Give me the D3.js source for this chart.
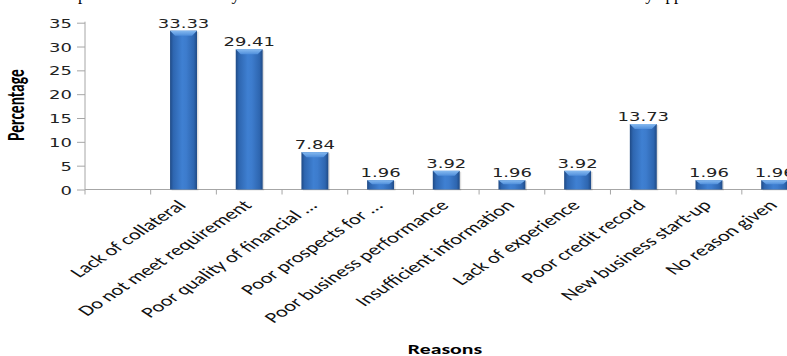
<!DOCTYPE html>
<html><head><meta charset="utf-8">
<script src="https://cdn.jsdelivr.net/npm/d3@7"></script>
<style>html,body{margin:0;padding:0;background:#fff;overflow:hidden}</style>
</head><body>
<script>
const categories = ["", "Lack of collateral", "Do not meet requirement", "Poor quality of financial ...", "Poor prospects for ...", "Poor business performance", "Insufficient information", "Lack of experience", "Poor credit record", "New business start-up", "No reason given"];
const values = [null, 33.33, 29.41, 7.84, 1.96, 3.92, 1.96, 3.92, 13.73, 1.96, 1.96];
const valueLabels = ["", "33.33", "29.41", "7.84", "1.96", "3.92", "1.96", "3.92", "13.73", "1.96", "1.96"];
const yTicks = [0, 5, 10, 15, 20, 25, 30, 35];
const yTitle = "Percentage";
const xTitle = "Reasons";

const W = 787, H = 356, SX = 1.5;
const svg = d3.select("body").append("svg").attr("width", W).attr("height", H);
const defs = svg.append("defs");
const g1 = defs.append("linearGradient").attr("id","barg").attr("x1","0").attr("x2","1").attr("y1","0").attr("y2","0");
[["0%","#1f4a85"],["12%","#2e66b0"],["45%","#3f80d2"],["60%","#3d7ccd"],["88%","#2e66b0"],["100%","#1f4a85"]]
  .forEach(([o,c])=>g1.append("stop").attr("offset",o).attr("stop-color",c));
const g2 = defs.append("linearGradient").attr("id","capg").attr("x1","0").attr("x2","0").attr("y1","0").attr("y2","1");
[["0%","#86baf0"],["100%","#4f8edb"]].forEach(([o,c])=>g2.append("stop").attr("offset",o).attr("stop-color",c));

const x = d3.scaleBand().domain(categories).range([85, 807.5]).paddingInner(0.59).paddingOuter(0.295);
const y = d3.scaleLinear().domain([0, 35]).range([189.5, 22.7]);
const step = x.step();

// caption fragment at top (cut off by the crop, only descenders show)
svg.append("text").attr("y", -0.5).attr("font-family","Liberation Serif, serif").attr("font-size",17).attr("fill","#000")
  .call(t=>{
    t.append("tspan").attr("x",78).text("provided the reasons by the");
    t.append("tspan").attr("x",455).text("was not obtained as stated by applicants");
  });

// y axis
const axisCol = "#a6a6a6";
const gy = svg.append("g").attr("transform","translate(85,0)")
  .call(d3.axisLeft(y).tickValues(yTicks).tickSize(8).tickPadding(5).tickFormat(d3.format("d")));
gy.select(".domain").attr("stroke",axisCol).attr("d",`M0,${y(35)-1}V${y(0)}`);
gy.selectAll(".tick line").attr("stroke",axisCol);
gy.selectAll(".tick text").attr("fill","#222").attr("font-family","DejaVu Sans, sans-serif").attr("font-size",12)
  .attr("x",null).attr("dy",null)
  .attr("transform",`translate(-13,4.5) scale(${SX},1)`).attr("text-anchor","end");

// x axis
const bounds = d3.range(categories.length+1).map(i=>85 + i*step);
const gx = svg.append("g");
gx.append("line").attr("x1",85).attr("x2",W+30).attr("y1",y(0)).attr("y2",y(0)).attr("stroke",axisCol);
gx.selectAll("line.tk").data(bounds).join("line").attr("class","tk")
  .attr("x1",d=>d).attr("x2",d=>d).attr("y1",y(0)).attr("y2",y(0)+5).attr("stroke",axisCol);

gx.selectAll("text.cat").data(categories).join("text").attr("class","cat")
  .attr("transform",d=>`translate(${x(d)+x.bandwidth()/2-2},${y(0)+13}) scale(${SX},1) rotate(-45)`)
  .attr("text-anchor","end").attr("dy","0.35em")
  .attr("font-family","Carlito, Lato, sans-serif").attr("font-size",15).attr("fill","#111")
  .text(d=>d);

// bars
const data = categories.map((c,i)=>({c, v: values[i], lab: valueLabels[i]})).filter(d=>d.v!=null);
const bars = svg.append("g");
bars.selectAll("rect.sh").data(data).join("rect").attr("class","sh")
  .attr("x",d=>x(d.c)+1.5).attr("y",d=>y(d.v)+1).attr("width",x.bandwidth()).attr("height",d=>y(0)-y(d.v))
  .attr("fill","#000").attr("opacity",0.12);
bars.selectAll("rect.b").data(data).join("rect").attr("class","b")
  .attr("x",d=>x(d.c)).attr("y",d=>y(d.v)).attr("width",x.bandwidth()).attr("height",d=>y(0)-y(d.v))
  .attr("fill","url(#barg)");
bars.selectAll("path.cap").data(data).join("path").attr("class","cap")
  .attr("d",d=>{const x0=x(d.c), w=x.bandwidth(), t=y(d.v), h=Math.min(5,(y(0)-t)*0.45);
    return `M${x0},${t}H${x0+w}L${x0+w-5},${t+h}H${x0+5}Z`;})
  .attr("fill","url(#capg)");

// value labels
svg.append("g").selectAll("text").data(data).join("text")
  .attr("transform",d=>`translate(${x(d.c)+x.bandwidth()/2},${y(d.v)-3}) scale(${SX},1)`)
  .attr("text-anchor","middle").attr("font-family","DejaVu Sans, sans-serif").attr("font-size",12).attr("fill","#222")
  .text(d=>d.lab);

// titles
svg.append("text").attr("transform",`translate(24,105) scale(${SX},1) rotate(-90)`).attr("text-anchor","middle")
  .attr("font-family","Carlito, Lato, sans-serif").attr("font-weight","bold").attr("font-size",15.5)
  .attr("fill","#000").text(yTitle);
svg.append("text").attr("transform",`translate(445,354) scale(${SX},1)`).attr("text-anchor","middle")
  .attr("font-family","Carlito, Lato, sans-serif").attr("font-weight","bold").attr("font-size",14.5)
  .attr("fill","#000").text(xTitle);
</script>
</body></html>
